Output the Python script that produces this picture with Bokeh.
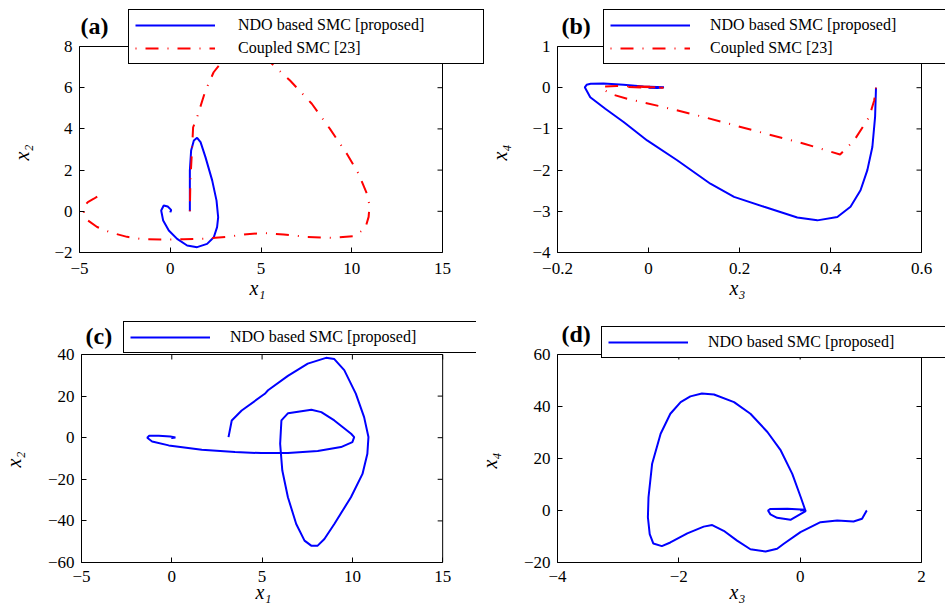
import math
from bokeh.plotting import figure
from bokeh.models import (Range1d, FixedTicker, CustomJSTickFormatter, LinearAxis,
                          Legend, LegendItem, Label, Title)
from bokeh.layouts import column, row
from bokeh.embed import file_html
from bokeh.resources import INLINE

# ---------------- data ----------------
LABEL_NDO = "NDO based SMC [proposed]"
LABEL_CSMC = "Coupled SMC [23]"

# (a) x1 vs x2
a_ndo_x1 = [1.08, 1.08, 1.15, 1.30, 1.48, 1.67, 1.94, 2.31, 2.55, 2.64, 2.58, 2.40, 2.03,
            1.48, 0.93, 0.38, -0.08, -0.39, -0.50, -0.36, -0.14, 0.05, 0.01, 0.0]
a_ndo_x2 = [0.0, 1.98, 2.95, 3.44, 3.57, 3.36, 2.63, 1.50, 0.52, -0.29, -0.77, -1.26, -1.58,
            -1.74, -1.66, -1.34, -0.93, -0.45, 0.04, 0.28, 0.23, 0.07, -0.04, 0.0]
a_csmc_x1 = [1.08, 1.11, 1.20, 1.26, 1.48, 1.94, 2.39, 2.76, 3.3, 4.2, 5.0, 5.6, 6.6, 7.8,
             8.8, 9.73, 10.37, 10.83, 10.98, 10.93, 10.74, 10.1, 9.0, 7.53, 6.25, 5.14,
             4.22, 3.12, 2.03, 0.74, -0.54, -1.64, -2.38, -3.29, -4.03, -4.54, -4.76,
             -4.76, -4.54, -4.21, -3.84]
a_csmc_x2 = [0.0, 1.5, 3.0, 4.08, 4.57, 5.86, 6.75, 7.16, 7.6, 7.8, 7.6, 7.16, 6.35, 5.22,
             4.0, 2.79, 1.83, 0.86, 0.29, -0.27, -0.84, -1.21, -1.29, -1.24, -1.13, -1.05,
             -1.11, -1.24, -1.32, -1.36, -1.37, -1.34, -1.24, -1.03, -0.76, -0.44, -0.11,
             0.21, 0.45, 0.61, 0.81]

# (b) x3 vs x4
b_ndo_x3 = [0.50, 0.498, 0.492, 0.481, 0.466, 0.444, 0.415, 0.371, 0.327, 0.254, 0.188,
            0.136, 0.063, -0.003, -0.054, -0.095, -0.128, -0.14, -0.136, -0.127, -0.099,
            -0.055, -0.011, 0.034, 0.02, 0.0]
b_ndo_x4 = [0.0, -0.71, -1.44, -2.0, -2.49, -2.89, -3.14, -3.22, -3.15, -2.89, -2.65,
            -2.33, -1.76, -1.28, -0.84, -0.51, -0.23, 0.01, 0.07, 0.096, 0.1,
            0.07, 0.03, 0.01, -0.01, 0.0]
b_csmc_x3 = [0.50, 0.496, 0.485, 0.452, 0.421, 0.342, 0.232, 0.121, 0.033, -0.047, -0.084,
             -0.10, -0.102, -0.07, -0.02, 0.03, -0.05, 0.0, 0.033]
b_csmc_x4 = [0.0, -0.31, -0.71, -1.28, -1.62, -1.36, -1.04, -0.71, -0.47, -0.27, -0.15,
             -0.03, 0.03, 0.04, 0.03, 0.01, 0.02, 0.0, 0.0]

# (c) x1 vs x2
c_ndo_x1 = [3.14, 3.32, 3.87, 5.15, 5.33, 6.43, 7.53, 8.54, 9.0, 9.55, 10.19, 10.65, 10.89,
            10.83, 10.56, 9.92, 9.0, 8.45, 8.08, 7.72, 7.35, 6.89, 6.43, 6.12, 6.0, 6.07,
            6.44, 7.73, 8.28, 9.0, 9.93, 10.1, 10.0, 9.37, 8.08, 6.43, 4.96, 3.5, 1.66,
            -0.17, -1.09, -1.36, -1.25, -0.72, -0.08, 0.2, 0.01, 0.0]
c_ndo_x2 = [0.25, 8.3, 13.1, 21.1, 22.8, 29.7, 35.6, 38.4, 37.8, 32.5, 21.2, 9.9, 0.3,
            -7.7, -17.4, -28.6, -41.5, -48.7, -51.9, -51.9, -49.5, -41.5, -28.6, -15.8,
            -2.9, 8.3, 11.8, 13.4, 12.3, 8.3, 1.9, 0.3, -2.1, -4.5, -6.4, -7.4, -7.4,
            -6.9, -5.8, -3.7, -1.8, -0.05, 0.9, 0.9, 0.6, 0.1, -0.2, 0.0]

# (d) x3 vs x4
d_ndo_x3 = [1.10, 1.09, 1.02, 0.88, 0.61, 0.335, 0.005, -0.27, -0.38, -0.57, -0.82, -1.04,
            -1.26, -1.45, -1.59, -1.86, -2.14, -2.28, -2.42, -2.48, -2.51, -2.5, -2.44,
            -2.3, -2.14, -1.97, -1.81, -1.62, -1.42, -1.09, -0.82, -0.54, -0.32, -0.13,
            0.01, 0.09, -0.16, -0.38, -0.49, -0.53, -0.49, -0.21, 0.09, 0.0]
d_ndo_x4 = [0.0, -0.27, -3.2, -4.2, -3.85, -4.5, -8.3, -12.8, -14.7, -15.8, -14.9, -11.6,
            -7.8, -5.6, -6.2, -8.8, -12.3, -13.7, -12.7, -9.1, -2.6, 5.1, 18.0, 29.5,
            37.2, 41.7, 43.9, 45.0, 44.6, 41.7, 37.2, 30.2, 23.1, 14.1, 5.1, -0.27,
            -3.6, -2.8, -1.5, 0.0, 0.6, 0.65, 0.3, 0.0]

# axes limits and ticks
a_xr, a_yr = (-5, 15), (-2, 8)
a_xt, a_yt = [-5, 0, 5, 10, 15], [-2, 0, 2, 4, 6, 8]
b_xr, b_yr = (-0.2, 0.6), (-4, 1)
b_xt, b_yt = [-0.2, 0, 0.2, 0.4, 0.6], [-4, -3, -2, -1, 0, 1]
c_xr, c_yr = (-5, 15), (-60, 40)
c_xt, c_yt = [-5, 0, 5, 10, 15], [-60, -40, -20, 0, 20, 40]
d_xr, d_yr = (-4, 2), (-20, 60)
d_xt, d_yt = [-4, -2, 0, 2], [-20, 0, 20, 40, 60]

# ---------------- styling ----------------
SERIF = "Liberation Serif"
BLUE = "#0000ff"
RED = "#ff0000"
RED_DASH = "13 9 1 9"
RED_DASH_OFFSET = 22
MINUS_FMT = "return tick < 0 ? '\u2212' + Math.abs(tick) : String(tick);"


def style_axis(ax, ticks, bounds, standoff):
    ax.ticker = FixedTicker(ticks=ticks)
    ax.formatter = CustomJSTickFormatter(code=MINUS_FMT)
    ax.bounds = bounds
    ax.major_tick_in = 5
    ax.major_tick_out = 0
    ax.minor_tick_line_color = None
    ax.major_tick_line_color = "black"
    ax.axis_line_color = "black"
    ax.major_label_text_font = SERIF
    ax.major_label_text_font_size = "17px"
    ax.major_label_text_color = "black"
    ax.major_label_standoff = standoff


def spacer_axis(ticks, width):
    # invisible axis (no line, no visible ticks or labels) that only leaves room
    # between the tick labels and the axis title
    ax = LinearAxis(ticker=FixedTicker(ticks=ticks[:1]))
    ax.axis_line_color = None
    ax.major_tick_line_color = None
    ax.minor_tick_line_color = None
    ax.major_tick_in = 0
    ax.major_tick_out = width
    ax.major_label_text_color = None
    ax.major_label_text_font_size = "1px"
    ax.major_label_standoff = 0
    return ax


def axis_title(text, offset, standoff, valign):
    return Title(text=text, align="left", offset=offset, standoff=standoff,
                 vertical_align=valign, text_font=SERIF, text_font_style="italic",
                 text_font_size="20px", text_color="black")


def make_panel(xr, yr, xt, yt, w, h, bl, bb, box_w, box_h, x_std):
    # the plotting frame extends above and to the right of the axes box, so that the
    # legend and the panel tag (which overlap the box edge) are drawn inside the frame
    ext_r = w - bl - box_w
    ext_t = h - bb - box_h
    ux = (xr[1] - xr[0]) / box_w
    uy = (yr[1] - yr[0]) / box_h
    p = figure(width=w, height=h,
               x_range=Range1d(xr[0], xr[1] + ext_r * ux),
               y_range=Range1d(yr[0], yr[1] + ext_t * uy),
               output_backend="svg", toolbar_location=None,
               min_border_left=bl, min_border_right=0,
               min_border_top=0, min_border_bottom=bb)
    p.xgrid.visible = False
    p.ygrid.visible = False
    p.outline_line_color = None
    p.background_fill_color = "white"
    p.border_fill_color = "white"
    style_axis(p.xaxis[0], xt, xr, x_std)
    style_axis(p.yaxis[0], yt, yr, 7)
    return p


def add_titles(p, yt, xlab, ylab, x_off, x_std, y_gap, y_off):
    p.add_layout(axis_title(xlab, x_off, x_std, "top"), "below")
    p.add_layout(spacer_axis(yt, y_gap), "left")
    p.add_layout(axis_title(ylab, y_off, 0, "bottom"), "left")


def add_box(p, xr, yr, xt, yt):
    # axes box (top/right edges) with inward ticks on the top and right sides
    p.quad(left=[xr[0]], right=[xr[1]], bottom=[yr[0]], top=[yr[1]],
           fill_color=None, line_color="black", line_width=1)
    p.ray(x=xt, y=[yr[1]] * len(xt), length=5, length_units="screen",
          angle=-math.pi / 2, line_color="black", line_width=1)
    p.ray(x=[xr[1]] * len(yt), y=yt, length=5, length_units="screen",
          angle=math.pi, line_color="black", line_width=1)


def add_legend(p, items, loc, standoff, label_width):
    leg = Legend(items=items, location=loc, orientation="vertical",
                 padding=6, spacing=5, margin=0,
                 glyph_width=80, glyph_height=18, label_height=18,
                 label_width=label_width, label_standoff=standoff,
                 label_text_font=SERIF, label_text_font_size="16px",
                 label_text_color="black",
                 border_line_color="black", border_line_width=1, border_line_alpha=1,
                 background_fill_color="white", background_fill_alpha=1)
    p.add_layout(leg)


def add_tag(p, text, x, y):
    p.add_layout(Label(x=x, y=y, x_units="screen", y_units="screen", text=text,
                       text_font=SERIF, text_font_style="bold", text_font_size="24px",
                       text_baseline="middle", text_align="left", text_color="black"))


def red_line(p, xs, ys):
    return p.line(xs, ys, line_color=RED, line_width=2, line_dash=RED_DASH,
                  line_dash_offset=RED_DASH_OFFSET)


# (a)
pa = make_panel(a_xr, a_yr, a_xt, a_yt, 484, 310, 79, 58, 363, 206, 10)
ra1 = pa.line(a_ndo_x1, a_ndo_x2, line_color=BLUE, line_width=2)
ra2 = red_line(pa, a_csmc_x1, a_csmc_x2)
add_box(pa, a_xr, a_yr, a_xt, a_yt)
add_legend(pa, [LegendItem(label=LABEL_NDO, renderers=[ra1]),
                LegendItem(label=LABEL_CSMC, renderers=[ra2])], (49, 188), 23, 239)
add_tag(pa, "(a)", 1, 227)
add_titles(pa, a_yt, "x\u2081", "x\u2082", 170, 0, 19, 92)

# (b)
pb = make_panel(b_xr, b_yr, b_xt, b_yt, 461, 310, 73, 58, 364, 206, 10)
rb1 = pb.line(b_ndo_x3, b_ndo_x4, line_color=BLUE, line_width=2)
rb2 = red_line(pb, b_csmc_x3, b_csmc_x4)
add_box(pb, b_xr, b_yr, b_xt, b_yt)
add_legend(pb, [LegendItem(label=LABEL_NDO, renderers=[rb1]),
                LegendItem(label=LABEL_CSMC, renderers=[rb2])], (46, 188), 20, 239)
add_tag(pb, "(b)", 4, 227)
add_titles(pb, b_yt, "x\u2083", "x\u2084", 172, 0, 19, 92)

# (c)
pc = make_panel(c_xr, c_yr, c_xt, c_yt, 476, 297, 79, 45, 363, 208, 8)
rc1 = pc.line(c_ndo_x1, c_ndo_x2, line_color=BLUE, line_width=2)
add_box(pc, c_xr, c_yr, c_xt, c_yt)
add_legend(pc, [LegendItem(label=LABEL_NDO, renderers=[rc1])], (42, 209), 20, 242)
add_tag(pc, "(c)", 4, 227)
add_titles(pc, c_yt, "x\u2081", "x\u2082", 174, -8, 20, 95)

# (d)
pd_ = make_panel(d_xr, d_yr, d_xt, d_yt, 469, 297, 81, 45, 364, 208, 8)
rd1 = pd_.line(d_ndo_x3, d_ndo_x4, line_color=BLUE, line_width=2)
add_box(pd_, d_xr, d_yr, d_xt, d_yt)
add_legend(pd_, [LegendItem(label=LABEL_NDO, renderers=[rd1])], (44, 204), 20, 242)
add_tag(pd_, "(d)", 4, 229)
add_titles(pd_, d_yt, "x\u2083", "x\u2084", 172, -8, 20, 94)

layout = column(row(pa, pb), row(pc, pd_))

open("out.html", "w").write(file_html(layout, INLINE))
